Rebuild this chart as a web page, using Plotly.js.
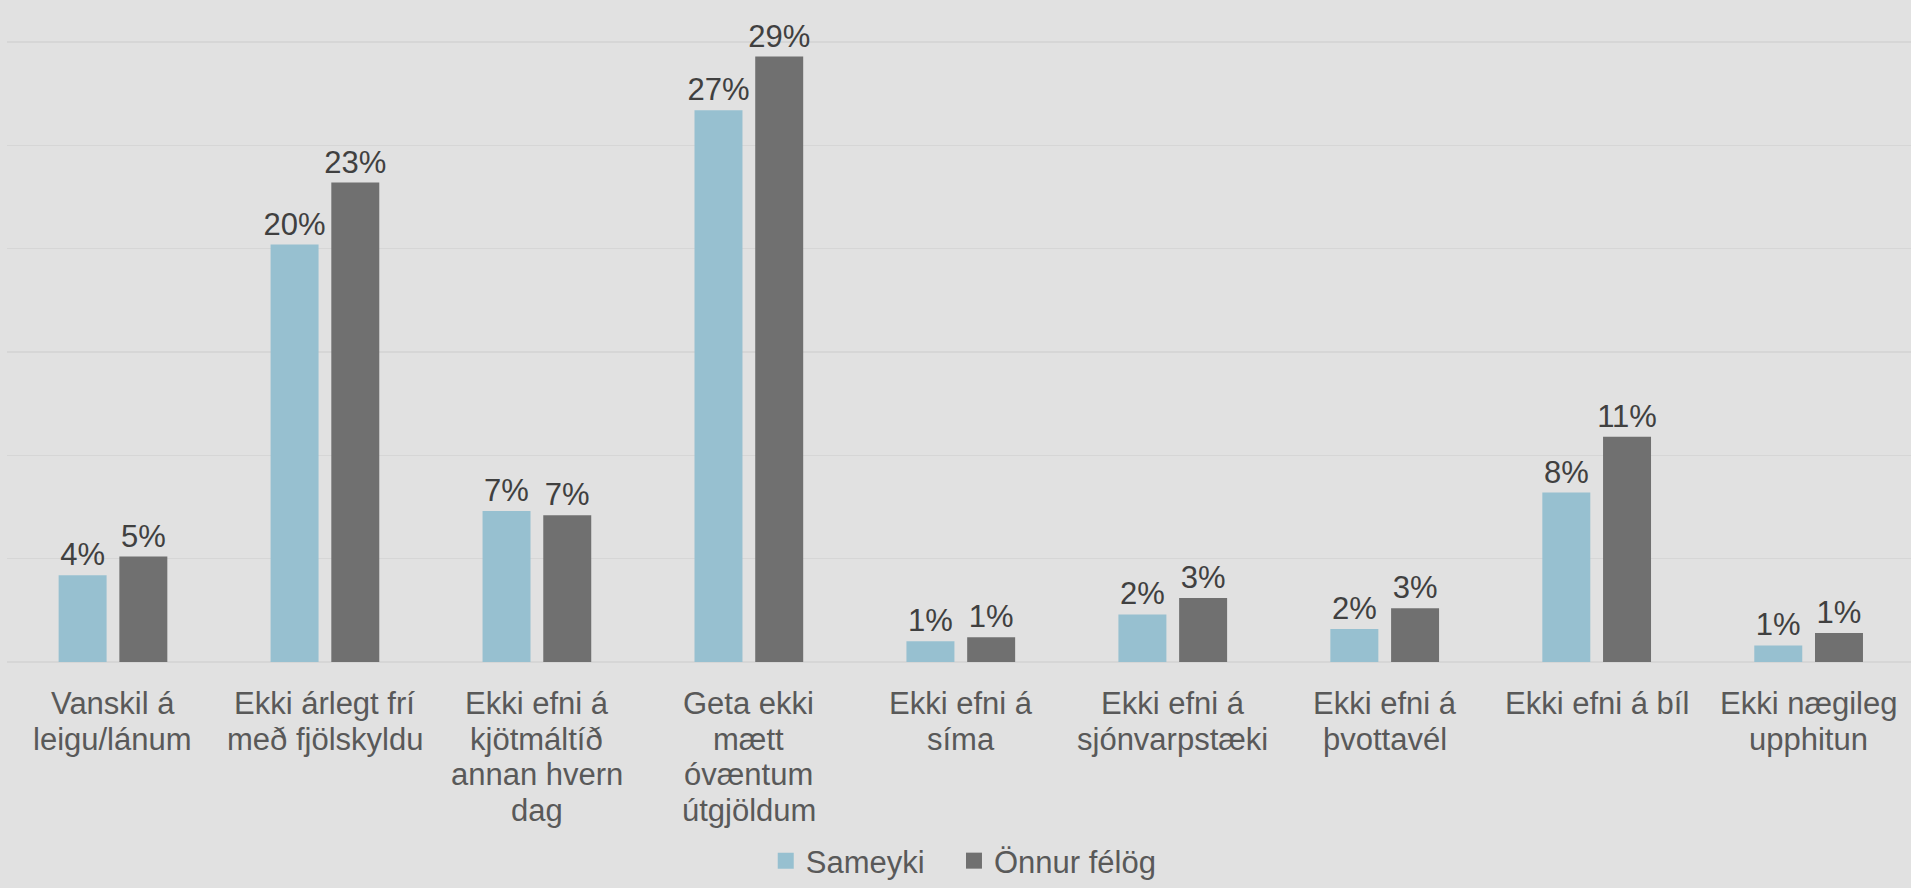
<!DOCTYPE html>
<html>
<head>
<meta charset="utf-8">
<script src="https://cdn.plot.ly/plotly-3.0.1.min.js"></script>
<style>
html,body{margin:0;padding:0;background:#e1e1e1;}
#chart{width:1911px;height:888px;}
</style>
</head>
<body>
<div id="chart"></div>
<script>
var categories = [
  "Vanskil á<br>leigu/lánum",
  "Ekki árlegt frí<br>með fjölskyldu",
  "Ekki efni á<br>kjötmáltíð<br>annan hvern<br>dag",
  "Geta ekki<br>mætt<br>óvæntum<br>útgjöldum",
  "Ekki efni á<br>síma",
  "Ekki efni á<br>sjónvarpstæki",
  "Ekki efni á<br>þvottavél",
  "Ekki efni á bíl",
  "Ekki nægileg<br>upphitun"
];
var sameyki = [4.2, 20.2, 7.3, 26.7, 1.0, 2.3, 1.6, 8.2, 0.8];
var onnurFelog = [5.1, 23.2, 7.1, 29.3, 1.2, 3.1, 2.6, 10.9, 1.4];
var seriesNames = ["Sameyki", "Önnur félög"];
var seriesColors = ["#97c0d0", "#707070"];
var yTicks = [0, 5, 10, 15, 20, 25, 30];

var FONT = "Liberation Sans, Arial, sans-serif";

function bar(name, vals, color) {
  return {
    type: "bar",
    name: name,
    x: categories,
    y: vals,
    marker: {color: color},
    texttemplate: "%{y:.0f}%",
    textposition: "outside",
    constraintext: "none",
    cliponaxis: false,
    textfont: {family: FONT, size: 31, color: "#404040"},
    hoverinfo: "skip",
    showlegend: false
  };
}

function legendEntry(name, color, legendId) {
  return {
    type: "scatter",
    mode: "markers",
    name: name,
    x: [null],
    y: [null],
    marker: {symbol: "square", size: 16, color: color},
    hoverinfo: "skip",
    showlegend: true,
    legend: legendId
  };
}

var data = [
  bar(seriesNames[0], sameyki, seriesColors[0]),
  bar(seriesNames[1], onnurFelog, seriesColors[1]),
  legendEntry(seriesNames[0], seriesColors[0], "legend"),
  legendEntry(seriesNames[1], seriesColors[1], "legend2")
];

// category labels drawn line by line (tighter line spacing than tick labels)
var annotations = [];
categories.forEach(function (cat) {
  cat.split("<br>").forEach(function (line, i) {
    annotations.push({
      x: cat,
      y: 0,
      xref: "x",
      yref: "y",
      text: line,
      showarrow: false,
      xanchor: "center",
      yanchor: "top",
      yshift: -22 - i * 35.7,
      font: {family: FONT, size: 31, color: "#595959"}
    });
  });
});

function legendBox(xPos) {
  return {
    orientation: "h",
    xref: "container",
    x: xPos,
    xanchor: "left",
    yref: "container",
    y: -0.007,
    yanchor: "bottom",
    font: {family: FONT, size: 31, color: "#595959"},
    bgcolor: "rgba(0,0,0,0)",
    itemwidth: 30
  };
}

var layout = {
  width: 1911,
  height: 888,
  paper_bgcolor: "#e1e1e1",
  plot_bgcolor: "#e1e1e1",
  margin: {l: 7, r: 0, t: 41, b: 225, pad: 0, autoexpand: false},
  barmode: "group",
  bargap: 0.427,
  bargroupgap: 0.21,
  font: {family: FONT, size: 31, color: "#595959"},
  xaxis: {
    type: "category",
    range: [-0.5, 8.483],
    showgrid: false,
    zeroline: false,
    showline: false,
    showticklabels: false,
    ticks: "",
    automargin: false,
    fixedrange: true
  },
  yaxis: {
    range: [-0.05, 30.05],
    tickvals: yTicks,
    showticklabels: false,
    showgrid: true,
    gridcolor: "#d6d6d6",
    gridwidth: 1.5,
    zeroline: false,
    showline: false,
    ticks: "",
    automargin: false,
    fixedrange: true
  },
  annotations: annotations,
  showlegend: true,
  legend: legendBox(0.4007),
  legend2: legendBox(0.4992)
};

Plotly.newPlot("chart", data, layout, {displayModeBar: false, staticPlot: true});
</script>
</body>
</html>
